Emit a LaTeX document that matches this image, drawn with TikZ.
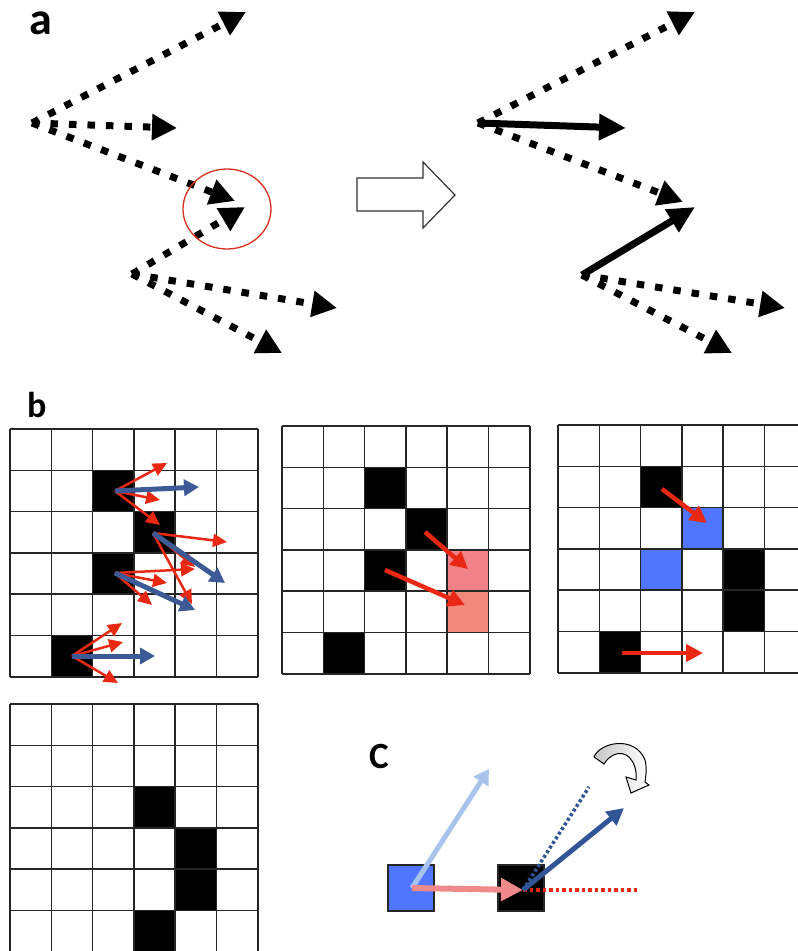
\documentclass[tikz,border=0pt]{standalone}
\usepackage{fontspec}
\setmainfont{Carlito}
\usepackage{tikz}
\usetikzlibrary{arrows.meta}

\definecolor{vecred}{RGB}{232,40,18}
\definecolor{vecblue}{RGB}{60,90,150}
\definecolor{cellblue}{RGB}{80,118,255}
\definecolor{cellpink}{RGB}{240,130,136}
\definecolor{cellsalmon}{RGB}{240,136,124}
\definecolor{paleblue}{RGB}{168,196,236}
\definecolor{salmon}{RGB}{240,138,138}
\definecolor{deepblue}{RGB}{47,85,151}
\definecolor{ringred}{RGB}{214,48,30}

\tikzset{
  dotvec/.style={line width=7pt, dash pattern=on 7.5pt off 11pt,
    -{Triangle[length=25pt,width=25pt]}},
  solidvec/.style={line width=7pt, -{Triangle[length=27pt,width=25pt]}},
  thinred/.style={vecred, line width=2.5pt, -{Triangle[length=14pt,width=13pt]}},
  thinblue/.style={vecblue, line width=5pt, -{Triangle[length=15pt,width=16pt]}},
  fatred/.style={vecred, line width=4.5pt, -{Triangle[length=17pt,width=17pt]}},
  gridline/.style={line width=1.5pt, draw=black!85},
  panel/.style={inner sep=0pt, anchor=base west, font=\bfseries\fontsize{#1}{#1}\selectfont},
  sq/.style={draw=black!85, line width=1.2pt},
}

\def\cs{41.3}
\newcommand{\sixgrid}{%
  \foreach \k in {0,...,6} {
    \draw[gridline] (\k*\cs,0) -- (\k*\cs,6*\cs);
    \draw[gridline] (0,\k*\cs) -- (6*\cs,\k*\cs);
  }}

\begin{document}
\begin{tikzpicture}[x=1pt,y=-1pt]
	\useasboundingbox (0,0) rectangle (798,951);
	\clip (0,0) rectangle (798,951);

	% panel a
	\node[panel=46] (la) at (29,34) {a};

	\coordinate (p) at (32,123) ; %
	\coordinate (q) at (132,274) ;
	\coordinate (p1) at (246,12) ;
	\coordinate (p2) at (177,128) ;
	\coordinate (p3) at (235,201) ;
	\coordinate (q1) at (245,207) ;
	\coordinate (q2) at (337,308) ;
	\coordinate (q3) at (282,353) ;

	\draw[dotvec] (p) -- (p1) ;
	\draw[dotvec] (p) -- (p2) ;
	\draw[dotvec] (p) -- (p3) ;
	\draw[dotvec] (q) -- (q1) ;
	\draw[dotvec] (q) -- (q2) ;
	\draw[dotvec] (q) -- (q3) ;

	\draw[ringred, line width=1.3pt] (227,209) ellipse [x radius=44pt, y radius=40pt];

	% open arrow
	\draw[black!80, line width=1.2pt, fill=white]
	  (357,178) -- (423,178) -- (423,162) -- (455,195) -- (423,228) -- (423,211) -- (357,211) -- cycle;

	\coordinate (u) at (478,123) ; %
	\coordinate (v) at (582,275) ;
	\coordinate (u1) at (695,12) ;
	\coordinate (u2) at (626,128) ;
	\coordinate (u3) at (683,202) ;
	\coordinate (v1) at (695,207) ;
	\coordinate (v2) at (785,308) ;
	\coordinate (v3) at (732,353) ;

	\draw[dotvec] (u) -- (u1) ;
	\draw[solidvec] (u) -- (u2) ;
	\draw[dotvec] (u) -- (u3) ;
	\draw[solidvec] (v) -- (v1) ;
	\draw[dotvec] (v) -- (v2) ;
	\draw[dotvec] (v) -- (v3) ;

	% panel b
	\node[panel=36] (lb) at (27,417) {b};

	\begin{scope}[shift={(10,429)}]
	  \foreach \c/\r in {2/1,3/2,2/3,1/5}
	    \fill (\c*\cs,\r*\cs) rectangle ++(\cs,\cs);
	  \sixgrid
	\end{scope}

	\coordinate (o1) at (115,491) ;
	\coordinate (o2) at (153,533) ;
	\coordinate (o3) at (115,573) ;
	\coordinate (o4) at (72,656) ;
	\foreach \n/\x/\y in {a1/167/463, a2/160/500, a3/160/525, b1/227/542, b2/195/567,
	    b3/192/604, c1/195/569, c2/167/583, c3/152/605, d1/122/623, d2/123/642, d3/118/683}
	  \coordinate (\n) at (\x,\y);
	\foreach \n/\x/\y in {ab/199/487, bb/225/583, cb/195/610, db/155/656}
	  \coordinate (\n) at (\x,\y);

	\foreach \s/\t in {o1/a1, o1/a2, o1/a3, o2/b1, o2/b2, o2/b3, o3/c1, o3/c2, o3/c3, o4/d1, o4/d2, o4/d3}
	  \draw[thinred] (\s) -- (\t);
	\foreach \s/\t in {o1/ab, o2/bb, o3/cb, o4/db}
	  \draw[thinblue] (\s) -- (\t);

	\begin{scope}[shift={(282,426)}]
	  \foreach \c/\r in {2/1,3/2,2/3,1/5}
	    \fill (\c*\cs,\r*\cs) rectangle ++(\cs,\cs);
	  \fill[cellpink] (4*\cs,3*\cs) rectangle ++(\cs,\cs);
	  \fill[cellsalmon] (4*\cs,4*\cs) rectangle ++(\cs,\cs);
	  \sixgrid
	\end{scope}

	\coordinate (e) at (425,532) ;
	\coordinate (e1) at (468,569) ;
	\coordinate (f) at (385,570) ;
	\coordinate (f1) at (465,605) ;
	\draw[fatred] (e) -- (e1) ;
	\draw[fatred] (f) -- (f1) ;

	\begin{scope}[shift={(558,425)}]
	  \foreach \c/\r in {2/1,4/3,4/4,1/5}
	    \fill (\c*\cs,\r*\cs) rectangle ++(\cs,\cs);
	  \foreach \c/\r in {3/2,2/3}
	    \fill[cellblue] (\c*\cs,\r*\cs) rectangle ++(\cs,\cs);
	  \sixgrid
	\end{scope}

	\coordinate (g) at (662,489) ;
	\coordinate (g1) at (707,523) ;
	\coordinate (h) at (622,653) ;
	\coordinate (h1) at (703,653) ;
	\draw[fatred] (g) -- (g1) ;
	\draw[fatred] (h) -- (h1) ;

	\begin{scope}[shift={(10,704)}]
	  \foreach \c/\r in {3/2,4/3,4/4,3/5}
	    \fill (\c*\cs,\r*\cs) rectangle ++(\cs,\cs);
	  \sixgrid
	\end{scope}

	% panel c
	\node[panel=37] (lc) at (369,768) {C};

	\node[sq, fill=cellblue, minimum size=46pt, inner sep=0pt] (bsq) at (411,888) {};
	\node[sq, fill=black, minimum size=46pt, inner sep=0pt] (ksq) at (521,888) {};

	\coordinate (m) at (412,888) ;
	\coordinate (n) at (523,890) ;
	\coordinate (m1) at (489,769) ;
	\coordinate (n1) at (640,890) ;
	\coordinate (n2) at (589,787) ;
	\coordinate (n3) at (624,808) ;

	\draw[paleblue, line width=5pt, -{Triangle[length=15pt,width=17pt]}] (m) -- (m1) ;
	\draw[salmon, line width=6pt, -{Triangle[length=22pt,width=22pt]}] (m) -- (n) ;
	\draw[vecred, line width=3.5pt, dash pattern=on 3.5pt off 3pt] (n) -- (n1) ;
	\draw[deepblue, line width=3.5pt, dash pattern=on 3pt off 2.5pt] (n) -- (n2) ;
	\draw[deepblue, line width=5pt, -{Triangle[length=17pt,width=17pt]}] (n) -- (n3) ;

	% turning arrow
	\draw[black, line width=1pt, left color=black!22, right color=white]
	  (594,757) .. controls (600,742) and (635,735) .. (645,760)
	  .. controls (647,768) and (646,775) .. (645,782)
	  -- (649,785) -- (631,793) -- (626,777) -- (636,780)
	  .. controls (637,770) and (634,762) .. (629,757)
	  .. controls (621,750) and (610,754) .. (604,764) -- cycle;
\end{tikzpicture}
\end{document}
